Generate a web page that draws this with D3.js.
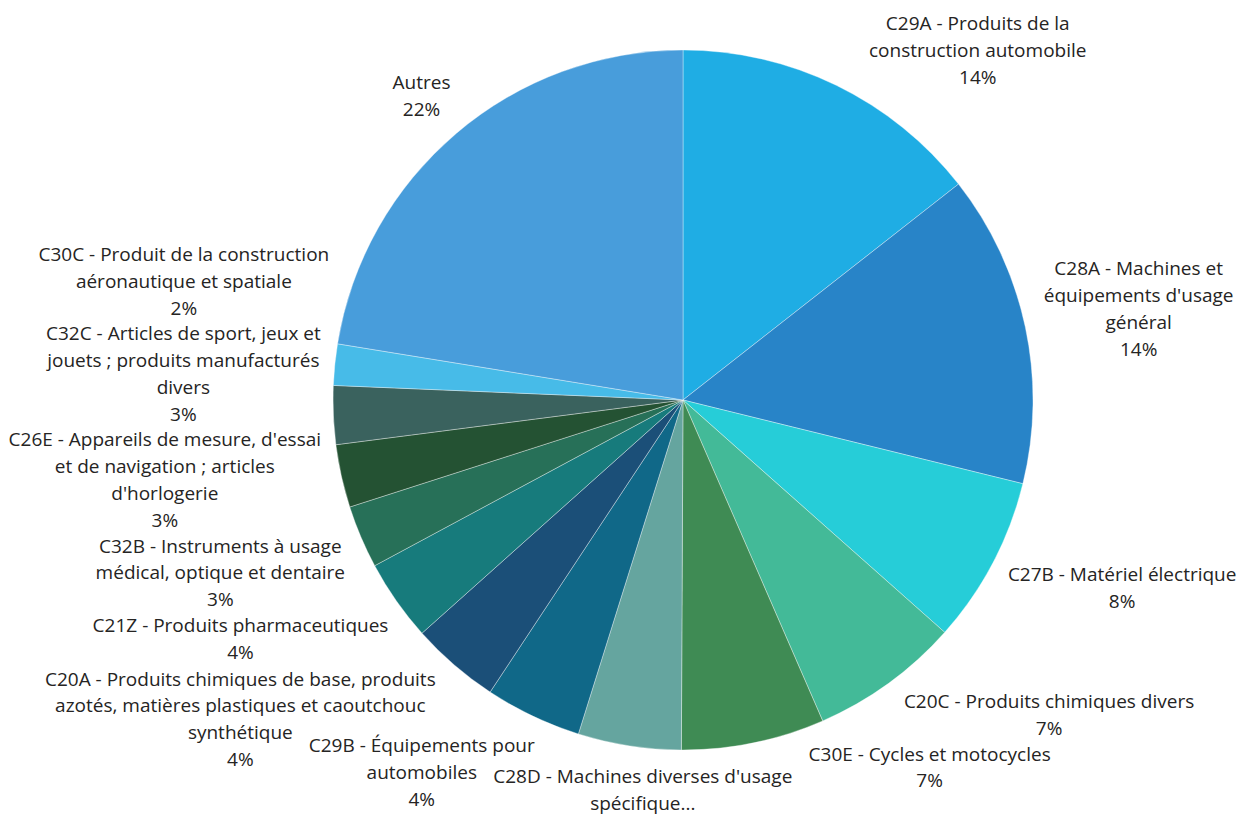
<!DOCTYPE html>
<html><head><meta charset="utf-8">
<script src="https://cdn.jsdelivr.net/npm/d3@7"></script>
<style>
html,body{margin:0;padding:0;background:#fff;}
svg{display:block;}
text{font-family:"Open Sans","Noto Sans",sans-serif;}
</style>
</head><body>
<svg id="chart" width="1251" height="816"></svg>
<script>
// ---- data ----
const categories = [
  "C29A - Produits de la\nconstruction automobile",
  "C28A - Machines et\néquipements d'usage\ngénéral",
  "C27B - Matériel électrique",
  "C20C - Produits chimiques divers",
  "C30E - Cycles et motocycles",
  "C28D - Machines diverses d'usage\nspécifique...",
  "C29B - Équipements pour\nautomobiles",
  "C20A - Produits chimiques de base, produits\nazotés, matières plastiques et caoutchouc\nsynthétique",
  "C21Z - Produits pharmaceutiques",
  "C32B - Instruments à usage\nmédical, optique et dentaire",
  "C26E - Appareils de mesure, d'essai\net de navigation ; articles\nd'horlogerie",
  "C32C - Articles de sport, jeux et\njouets ; produits manufacturés\ndivers",
  "C30C - Produit de la construction\naéronautique et spatiale",
  "Autres"
];
const values = [14.4, 14.4, 7.7, 6.9, 6.6, 4.75, 4.45, 4.1, 3.75, 2.9, 2.9, 2.7, 1.9, 22.4];
const colors = ["#1fade4","#2884c8","#26cdd8","#43ba98","#3f8b54","#65a59f","#106888",
                "#1b4f78","#177b7c","#277058","#245233","#3a625e","#47bbe8","#489ddb"];

// ---- layout ----
const W = 1251, H = 816;
const cx = 683, cy = 400, R = 350;
const GAP = 12, FS = 19, LH = 26.75, BASE = 21;
const TOP = 9, BOTTOM = 818, K = 1.3, INSET = 0.5, XPAD = 16;

const svg = d3.select("#chart");
const total = d3.sum(values);
const pieData = d3.pie().sort(null).value(d => d)(values);
const arc = d3.arc().innerRadius(0).outerRadius(R);

svg.append("g").attr("transform", `translate(${cx},${cy})`)
  .selectAll("path").data(pieData).join("path")
  .attr("d", arc)
  .attr("fill", (d, i) => colors[i])
  .attr("stroke", "#ffffff").attr("stroke-width", 0.6).attr("stroke-opacity", 0.6);

// ---- labels ----
const labels = pieData.map((d, i) => {
  const lines = categories[i].split("\n");
  if (!categories[i].endsWith("...")) lines.push(Math.round(values[i] / total * 100) + "%");
  const mid = (d.startAngle + d.endAngle) / 2;
  return { i, lines, theta: mid, nat: mid };
});

const lg = svg.append("g");
labels.forEach(L => {
  L.node = lg.append("text").attr("font-size", FS).attr("fill", "#252423").attr("text-anchor", "middle");
  L.widths = L.lines.map((t, k) => {
    const ts = L.node.append("tspan").attr("x", 0).attr("y", BASE + k * LH).text(t);
    return ts.node().getComputedTextLength();
  });
  L.w = d3.max(L.widths);
  L.h = L.lines.length * LH;
});

const clamp1 = v => Math.max(-1, Math.min(1, v));
function minDist(x, y, w, h) {
  const dx = Math.max(x - w / 2 - cx, 0, cx - (x + w / 2));
  const dy = Math.max(y - h / 2 - cy, 0, cy - (y + h / 2));
  return Math.hypot(dx, dy);
}
function clampCanvas(L, p) {
  p[0] = Math.max(L.w / 2 + 2, Math.min(W - 2 - L.w / 2, p[0]));
  p[1] = Math.max(TOP + L.h / 2, Math.min(BOTTOM - L.h / 2, p[1]));
}
function place(L) {
  const s = Math.sin(L.theta), c = -Math.cos(L.theta);
  const D = R + GAP;
  const p = [cx + D * s + clamp1(K * s) * L.w / 2, cy + D * c + clamp1(K * c) * L.h / 2];
  clampCanvas(L, p);
  let n = 0;
  while (minDist(p[0], p[1], L.w, L.h) < D && n < 800) {
    p[0] += s; p[1] += c; clampCanvas(L, p); n++;
    if (n > 400) { p[0] += s >= 0 ? 1 : -1; }
  }
  L.x = p[0]; L.y = p[1];
}
function rects(L) {
  const top = L.y - L.h / 2;
  return L.widths.map((w, k) => [L.x - w / 2, top + k * LH + INSET, L.x + w / 2, top + (k + 1) * LH - INSET]);
}
function overlap(A, B) {
  const ra = rects(A), rb = rects(B);
  for (const a of ra) for (const b of rb) {
    if (a[0] < b[2] + XPAD && b[0] < a[2] + XPAD && a[1] < b[3] && b[1] < a[3]) return true;
  }
  return false;
}
const hits = L => labels.some(M => M !== L && overlap(L, M));

labels.forEach(place);
const step = 0.002, back = 0.001;
for (let it = 0; it < 6000; it++) {
  let any = false;
  for (let a = 0; a < labels.length; a++) for (let b = a + 1; b < labels.length; b++) {
    const A = labels[a], B = labels[b];
    if (overlap(A, B)) {
      any = true;
      if (B.theta - A.theta <= Math.PI) { A.theta -= step; B.theta += step; }
      else { A.theta += step; B.theta -= step; }
      place(A); place(B);
    }
  }
  if (any) continue;
  // relax back toward the slice's own angle where free
  let moved = false;
  labels.forEach(L => {
    const d = L.nat - L.theta;
    if (Math.abs(d) < back) return;
    const old = L.theta;
    L.theta += Math.sign(d) * back; place(L);
    if (hits(L)) { L.theta = old; place(L); } else moved = true;
  });
  if (!moved) break;
}

labels.forEach(L => {
  L.node.attr("transform", `translate(${L.x},${L.y - L.h / 2})`);
});
</script>
</body></html>
